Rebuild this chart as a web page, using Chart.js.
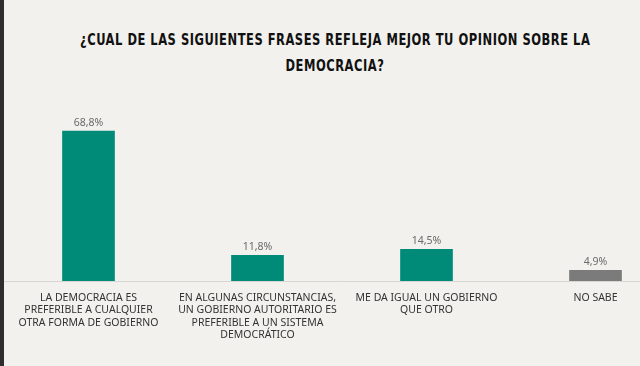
<!DOCTYPE html>
<html>
<head>
<meta charset="utf-8">
<script src="https://cdn.jsdelivr.net/npm/chart.js@4"></script>
<style>
  html, body { margin: 0; padding: 0; }
  body {
    width: 640px; height: 366px; overflow: hidden; position: relative;
    background: #f3f1ed;
  }
  #edge { position: absolute; left: 0; top: 0; width: 4px; height: 366px; background: #2e2e2e; z-index: 2; }
  .tline {
    position: absolute; left: 335px; white-space: nowrap;
    font-family: "DejaVu Sans Condensed", sans-serif;
    font-weight: bold; font-size: 15px; line-height: 15px; letter-spacing: 0.6px; color: #111;
    transform-origin: 0 0;
  }
  #t1 { top: 33px; }
  #t2 { top: 59px; }
  #wrap { position: absolute; left: 4px; top: 0; width: 676px; height: 366px; }
</style>
</head>
<body>
<div id="edge"></div>
<div class="tline" id="t1">¿CUAL DE LAS SIGUIENTES FRASES REFLEJA MEJOR TU OPINION SOBRE LA</div>
<div class="tline" id="t2">DEMOCRACIA?</div>
<div id="wrap"><canvas id="chart" width="676" height="366"></canvas></div>
<script>
const categorias = [
  ['LA DEMOCRACIA ES', 'PREFERIBLE A CUALQUIER', 'OTRA FORMA DE GOBIERNO'],
  ['EN ALGUNAS CIRCUNSTANCIAS,', 'UN GOBIERNO AUTORITARIO ES', 'PREFERIBLE A UN SISTEMA', 'DEMOCRÁTICO'],
  ['ME DA IGUAL UN GOBIERNO', 'QUE OTRO'],
  ['NO SABE']
];
const porcentajes = [68.8, 11.8, 14.5, 4.9];
const etiquetas = ['68,8%', '11,8%', '14,5%', '4,9%'];
const colores = ['#008a78', '#008a78', '#008a78', '#7b7b7b'];

// titulo: ajustar el ancho de la primera linea al original (~510px)
const t1 = document.getElementById('t1');
const t2 = document.getElementById('t2');
const k = 510 / t1.offsetWidth;
t1.style.transform = `translateX(${-t1.offsetWidth * k / 2}px) scaleX(${k})`;
t2.style.transform = `translateX(${-t2.offsetWidth * k / 2}px) scaleX(${k})`;

const valueLabels = {
  id: 'valueLabels',
  afterDatasetsDraw(chart) {
    const ctx = chart.ctx;
    const meta = chart.getDatasetMeta(0);
    ctx.save();
    ctx.font = '10.5px "Noto Sans", sans-serif';
    ctx.fillStyle = '#6a6a6a';
    ctx.textAlign = 'center';
    ctx.textBaseline = 'alphabetic';
    meta.data.forEach((bar, i) => {
      ctx.fillText(etiquetas[i], bar.x, bar.y - 5);
    });
    ctx.restore();
  }
};

const ctx = document.getElementById('chart').getContext('2d');
new Chart(ctx, {
  type: 'bar',
  data: {
    labels: categorias,
    datasets: [{ data: porcentajes, backgroundColor: colores, barThickness: 52 }]
  },
  options: {
    responsive: false,
    animation: false,
    devicePixelRatio: 1,
    layout: { padding: { top: 63, left: 0, right: 0, bottom: 0 } },
    plugins: { legend: { display: false }, tooltip: { enabled: false } },
    scales: {
      y: { display: false, min: 0, max: 100 },
      x: {
        grid: { display: false, drawTicks: false },
        border: { display: true, color: '#d8d6d2', width: 1 },
        ticks: {
          color: '#333333', padding: 11, maxRotation: 0, autoSkip: false,
          font: { family: '"Noto Sans", sans-serif', size: 10.5, lineHeight: 1.17 }
        },
        afterFit(scale) { scale.height = 85; }
      }
    }
  },
  plugins: [valueLabels]
});
</script>
</body>
</html>
